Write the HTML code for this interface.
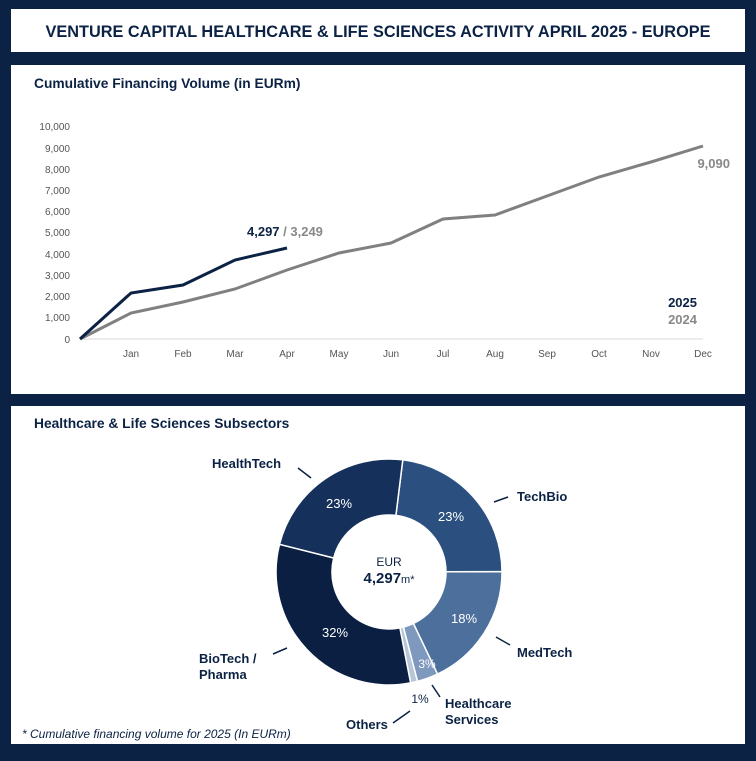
<!DOCTYPE html>
<html><head><meta charset="utf-8"><style>
body{margin:0;width:756px;height:756px;background:#0b2244;overflow:hidden;font-family:"Liberation Sans",Arial,sans-serif}
</style></head><body>
<svg width="756" height="756" viewBox="0 0 756 756" xmlns="http://www.w3.org/2000/svg" font-family="Liberation Sans, Arial, sans-serif">
<rect width="756" height="756" fill="#0b2244"/>
<rect x="11" y="9" width="734" height="43" fill="#fff"/>
<text x="378" y="37" text-anchor="middle" font-size="16.3" font-weight="bold" fill="#0b2244">VENTURE CAPITAL HEALTHCARE &amp; LIFE SCIENCES ACTIVITY APRIL 2025 - EUROPE</text>
<rect x="11" y="65" width="734" height="329" fill="#fff"/>
<text x="34" y="88" font-size="13.8" font-weight="bold" fill="#0b2244">Cumulative Financing Volume (in EURm)</text>
<g font-size="10" fill="#555" text-anchor="end">
<text x="70" y="130">10,000</text><text x="70" y="152">9,000</text><text x="70" y="173">8,000</text><text x="70" y="194">7,000</text><text x="70" y="215">6,000</text><text x="70" y="236">5,000</text><text x="70" y="258">4,000</text><text x="70" y="279">3,000</text><text x="70" y="300">2,000</text><text x="70" y="321">1,000</text><text x="70" y="343">0</text>
</g>
<line x1="80" y1="339" x2="703" y2="339" stroke="#d9d9d9" stroke-width="1"/>
<g font-size="10" fill="#555" text-anchor="middle">
<text x="131" y="357">Jan</text><text x="183" y="357">Feb</text><text x="235" y="357">Mar</text><text x="287" y="357">Apr</text><text x="339" y="357">May</text><text x="391" y="357">Jun</text><text x="443" y="357">Jul</text><text x="495" y="357">Aug</text><text x="547" y="357">Sep</text><text x="599" y="357">Oct</text><text x="651" y="357">Nov</text><text x="703" y="357">Dec</text>
</g>
<polyline fill="none" stroke="#808080" stroke-width="3" points="80,339 131,313 183,302 235,289 287,270 339,253 391,243 443,219 495,215 547,196 599,177 651,162 703,146"/>
<polyline fill="none" stroke="#0b2244" stroke-width="3" points="80,339 131,293 183,285 235,260 287,248"/>
<text x="247" y="236" font-size="13" font-weight="bold" fill="#0b2244">4,297 <tspan fill="#888">/ 3,249</tspan></text>
<text x="730" y="168" font-size="13" font-weight="bold" fill="#888" text-anchor="end">9,090</text>
<text x="697" y="307" font-size="13" font-weight="bold" fill="#0b2244" text-anchor="end">2025</text>
<text x="697" y="324" font-size="13" font-weight="bold" fill="#888" text-anchor="end">2024</text>
<rect x="11" y="406" width="734" height="338" fill="#fff"/>
<text x="34" y="428" font-size="13.8" font-weight="bold" fill="#0b2244">Healthcare &amp; Life Sciences Subsectors</text>
<g stroke="#fff" stroke-width="1.5">
<path d="M402.8,459.8 A113,113 0 0 1 502,571.6 L446,571.8 A57,57 0 0 0 395.9,515.4 Z" fill="#2b5080"/>
<path d="M502,571.6 A113,113 0 0 1 437.5,674.1 L413.4,623.5 A57,57 0 0 0 446,571.8 Z" fill="#4d6f9c"/>
<path d="M437.5,674.1 A113,113 0 0 1 417.5,681.4 L403.4,627.2 A57,57 0 0 0 413.4,623.5 Z" fill="#7f98bd"/>
<path d="M417.5,681.4 A113,113 0 0 1 410.6,682.9 L399.9,627.9 A57,57 0 0 0 403.4,627.2 Z" fill="#b8c6da"/>
<path d="M410.6,682.9 A113,113 0 0 1 279.5,544.3 L333.7,558 A57,57 0 0 0 399.9,627.9 Z" fill="#0a1f42"/>
<path d="M279.5,544.3 A113,113 0 0 1 402.8,459.8 L395.9,515.4 A57,57 0 0 0 333.7,558 Z" fill="#15305a"/>
</g>
<g font-size="13" fill="#fff" text-anchor="middle">
<text x="339" y="508">23%</text><text x="451" y="521">23%</text><text x="464" y="623">18%</text><text x="427" y="668" font-size="12">3%</text><text x="335" y="637">32%</text>
</g>
<text x="420" y="703" font-size="12" fill="#0b2244" text-anchor="middle">1%</text>
<text x="389" y="566" font-size="12" fill="#0b2244" text-anchor="middle">EUR</text>
<text x="389" y="583" font-size="15" font-weight="bold" fill="#0b2244" text-anchor="middle">4,297<tspan font-size="11" font-weight="normal">m*</tspan></text>
<g stroke="#0b2244" stroke-width="1.5">
<line x1="298" y1="468" x2="311" y2="478"/><line x1="494" y1="502" x2="508" y2="497"/><line x1="496" y1="637" x2="510" y2="645"/><line x1="432" y1="685" x2="440" y2="697"/><line x1="393" y1="723" x2="410" y2="711"/><line x1="273" y1="654" x2="287" y2="648"/>
</g>
<g font-size="13" font-weight="bold" fill="#0b2244">
<text x="212" y="468">HealthTech</text><text x="517" y="501">TechBio</text><text x="517" y="657">MedTech</text>
<text x="445" y="708">Healthcare</text><text x="445" y="724">Services</text><text x="346" y="729">Others</text>
<text x="199" y="663">BioTech /</text><text x="199" y="679">Pharma</text>
</g>
<text x="22" y="738" font-size="12" font-style="italic" fill="#0b2244">* Cumulative financing volume for 2025 (In EURm)</text>
</svg>
</body></html>
